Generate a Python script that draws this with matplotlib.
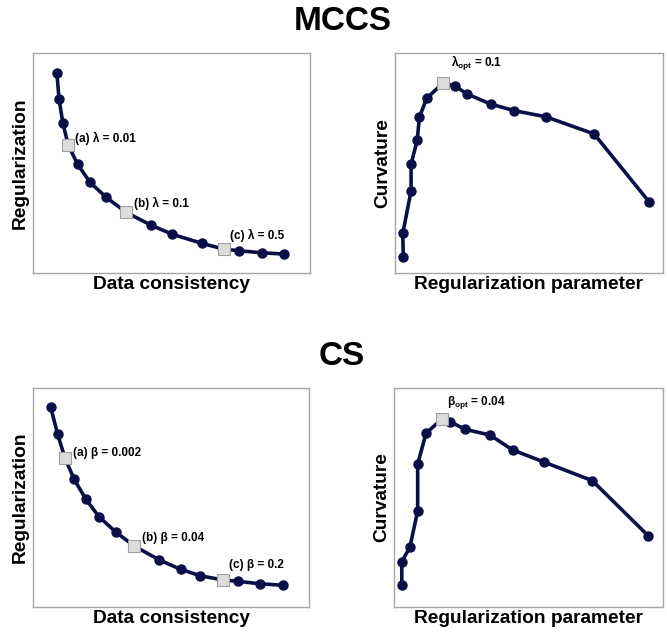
import matplotlib
matplotlib.use('Agg')
import matplotlib.pyplot as plt
import numpy as np

plt.rcParams['font.family'] = ['Liberation Sans', 'DejaVu Sans']
plt.rcParams['mathtext.fontset'] = 'custom'
plt.rcParams['mathtext.rm'] = 'Liberation Sans'
plt.rcParams['mathtext.bf'] = 'Liberation Sans:bold'
plt.rcParams['mathtext.it'] = 'Liberation Sans:italic'

line_col = '#0b0f47'

# MCCS L-curve (data consistency vs regularization)
mccs_l_x = [8.6, 9.4, 10.8, 12.7, 16.1, 20.6, 26.4, 33.6, 42.5, 50.3, 60.9, 69.1, 74.5, 82.6, 90.7]
mccs_l_y = [91.0, 79.0, 68.0, 58.2, 49.4, 41.2, 34.4, 27.6, 21.8, 17.6, 13.5, 10.8, 10.1, 9.2, 8.6]
mccs_l_mark = [3, 7, 11]
mccs_l_lab = ['(a) λ = 0.01', '(b) λ = 0.1', '(c) λ = 0.5']

# MCCS curvature
mccs_c_x = [3.1, 2.9, 6.0, 6.0, 8.3, 9.1, 11.8, 17.8, 22.4, 26.8, 35.7, 44.4, 56.3, 74.3, 94.9]
mccs_c_y = [7.4, 18.0, 37.3, 49.4, 60.5, 70.8, 79.4, 86.2, 85.0, 81.4, 76.8, 73.8, 71.0, 63.2, 32.2]
mccs_c_mark = 7
mccs_c_lab = r'λ$_{\mathbf{opt}}$ = 0.1'

# CS L-curve
cs_l_x = [6.4, 8.9, 11.6, 14.9, 19.1, 23.9, 30.1, 36.6, 45.7, 53.5, 60.5, 68.9, 74.4, 82.2, 90.7]
cs_l_y = [91.2, 79.0, 67.9, 58.3, 49.3, 41.2, 34.1, 27.9, 21.5, 17.2, 14.3, 12.3, 11.7, 10.6, 9.9]
cs_l_mark = [2, 7, 11]
cs_l_lab = ['(a) β = 0.002', '(b) β = 0.04', '(c) β = 0.2']

# CS curvature
cs_c_x = [2.9, 2.9, 5.9, 8.8, 8.8, 11.9, 17.7, 20.8, 26.5, 35.7, 44.1, 55.9, 73.7, 94.6]
cs_c_y = [10.0, 20.7, 27.3, 43.8, 65.2, 79.3, 85.7, 84.6, 81.1, 78.5, 71.7, 66.1, 57.7, 32.4]
cs_c_mark = 6
cs_c_lab = r'β$_{\mathbf{opt}}$ = 0.04'


def draw(ax, x, y, marks, labels, offsets, xlabel, ylabel):
    x = np.array(x)
    y = np.array(y)
    ax.plot(x, y, '-', color=line_col, lw=2.6, zorder=2)
    rest = [i for i in range(len(x)) if i not in marks]
    ax.plot(x[rest], y[rest], 'o', color=line_col, ms=6.5, zorder=3)
    ax.plot(x[marks], y[marks], 's', mfc='#dcdcdc', mec='#a0a0a0', mew=0.8, ms=8.5, zorder=4)
    for i, lab, off in zip(marks, labels, offsets):
        ax.annotate(lab, (x[i], y[i]), xytext=off, textcoords='offset points',
                    fontsize=8.5, fontweight='bold', ha='left', va='center')
    ax.set_xlim(0, 100)
    ax.set_ylim(0, 100)
    ax.set_xticks([])
    ax.set_yticks([])
    for s in ax.spines.values():
        s.set_color('#a6a6a6')
        s.set_linewidth(1.0)
    ax.set_xlabel(xlabel, fontsize=13.8, fontweight='bold', labelpad=2)
    ax.set_ylabel(ylabel, fontsize=13.8, fontweight='bold', labelpad=3)


fig = plt.figure(figsize=(6.67, 6.33), dpi=100)
ax1 = fig.add_axes([0.0495, 0.5687, 0.4153, 0.3476])
ax2 = fig.add_axes([0.5922, 0.5687, 0.4018, 0.3476])
ax3 = fig.add_axes([0.0495, 0.0411, 0.4138, 0.3460])
ax4 = fig.add_axes([0.5907, 0.0411, 0.4033, 0.3460])

draw(ax1, mccs_l_x, mccs_l_y, mccs_l_mark, mccs_l_lab,
     [(5, 4.5), (6, 6), (4, 10)], 'Data consistency', 'Regularization')
draw(ax2, mccs_c_x, mccs_c_y, [mccs_c_mark], [mccs_c_lab],
     [(6, 14)], 'Regularization parameter', 'Curvature')
draw(ax3, cs_l_x, cs_l_y, cs_l_mark, cs_l_lab,
     [(6, 4), (6, 6), (4, 11)], 'Data consistency', 'Regularization')
draw(ax4, cs_c_x, cs_c_y, [cs_c_mark], [cs_c_lab],
     [(4, 12)], 'Regularization parameter', 'Curvature')

fig.text(0.514, 1 - 29.5 / 633, 'MCCS', fontsize=24, fontweight='bold', ha='center', va='baseline')
fig.text(0.512, 1 - 365 / 633, 'CS', fontsize=24, fontweight='bold', ha='center', va='baseline')

fig.savefig('out.png', dpi=100)
